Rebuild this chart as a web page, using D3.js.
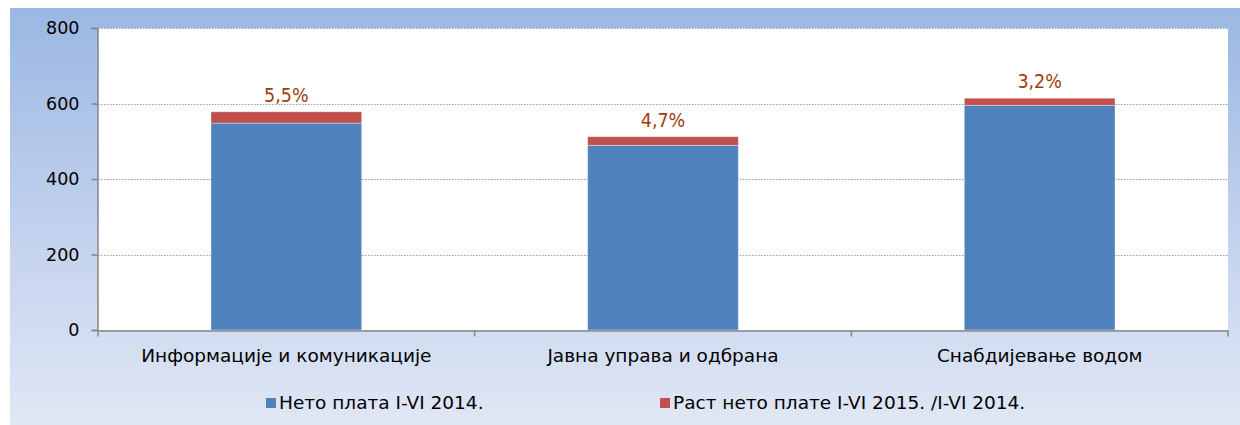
<!DOCTYPE html>
<html>
<head>
<meta charset="utf-8">
<script src="https://cdn.jsdelivr.net/npm/d3@7"></script>
<style>
    body { margin: 0; background: #fff; }
    svg text { font-family: "DejaVu Sans", sans-serif; }
</style>
</head>
<body>
<div id="chart"></div>
<script>
// data
var categories = ["Информације и комуникације", "Јавна управа и одбрана", "Снабдијевање водом"];
var netoPlata2014 = [548, 489, 595];
var rastNetoPlate = [30, 23, 19];
var rastLabels = ["5,5%", "4,7%", "3,2%"];
var yTicks = [0, 200, 400, 600, 800];
var seriesNames = ["Нето плата I-VI 2014.", "Раст нето плате I-VI 2015. /I-VI 2014."];
var seriesColors = ["#4f81bd", "#c0504d"];

var chartId = "#chart";

drawChart();

function drawChart() {
    var width = 1240,
        height = 425;

    var margin = { left: 98, right: 12, top: 28, bottom: 95 };

    var svg = d3.select(chartId).append("svg")
        .attr("width", width)
        .attr("height", height);

    // background gradient
    var defs = svg.append("defs");
    var grad = defs.append("linearGradient")
        .attr("id", "bgGrad")
        .attr("x1", 0).attr("y1", 0)
        .attr("x2", 0).attr("y2", 1);
    grad.append("stop").attr("offset", "0%").attr("stop-color", "#9ab7e3");
    grad.append("stop").attr("offset", "55%").attr("stop-color", "#c3d2ee");
    grad.append("stop").attr("offset", "100%").attr("stop-color", "#e0e7f4");

    svg.append("rect")
        .attr("x", 10)
        .attr("y", 8)
        .attr("width", width - 10)
        .attr("height", height - 8)
        .attr("fill", "url(#bgGrad)");

    var x0 = margin.left,
        x1 = width - margin.right,
        y0 = height - margin.bottom;

    var x = d3.scaleBand()
        .domain(categories)
        .range([x0, x1])
        .paddingInner(0)
        .paddingOuter(0);

    var y = d3.scaleLinear()
        .domain([0, 800])
        .range([y0, margin.top]);

    // plot area
    svg.append("rect")
        .attr("x", x0)
        .attr("y", margin.top)
        .attr("width", x1 - x0)
        .attr("height", y0 - margin.top)
        .attr("fill", "#fff");

    // gridlines
    svg.append("g")
        .selectAll("line")
        .data(yTicks.filter(d => d > 0))
        .join("line")
        .attr("x1", x0)
        .attr("x2", x1)
        .attr("y1", d => Math.round(y(d)) + 0.5)
        .attr("y2", d => Math.round(y(d)) + 0.5)
        .attr("stroke", "#9a9a9a")
        .attr("stroke-width", 1)
        .attr("stroke-dasharray", "1.5,1.5");

    // stacked bars
    var barW = x.bandwidth() * 0.4;
    var stackData = categories.map(function (c, i) {
        return { name: c, base: netoPlata2014[i], growth: rastNetoPlate[i], label: rastLabels[i] };
    });

    var bars = svg.append("g");
    bars.selectAll(".base")
        .data(stackData)
        .join("rect")
        .attr("class", "base")
        .attr("x", d => x(d.name) + (x.bandwidth() - barW) / 2)
        .attr("width", barW)
        .attr("y", d => y(d.base))
        .attr("height", d => y0 - y(d.base))
        .attr("fill", seriesColors[0])
        .attr("stroke", "rgba(255,255,255,0.35)")
        .attr("stroke-width", 1);

    bars.selectAll(".growth")
        .data(stackData)
        .join("rect")
        .attr("class", "growth")
        .attr("x", d => x(d.name) + (x.bandwidth() - barW) / 2)
        .attr("width", barW)
        .attr("y", d => y(d.base + d.growth))
        .attr("height", d => y(d.base) - y(d.base + d.growth))
        .attr("fill", seriesColors[1])
        .attr("stroke", "rgba(255,255,255,0.35)")
        .attr("stroke-width", 1);

    // growth labels
    svg.append("g")
        .selectAll("text")
        .data(stackData)
        .join("text")
        .attr("x", d => x(d.name) + x.bandwidth() / 2)
        .attr("y", d => y(d.base + d.growth) - 10)
        .attr("text-anchor", "middle")
        .attr("font-size", "19.5px")
        .attr("fill", "#a03c0c")
        .style("font-family", "'DejaVu Sans Condensed', 'DejaVu Sans', sans-serif")
        .text(d => d.label);

    // y axis
    var yAxis = d3.axisLeft(y)
        .tickValues(yTicks)
        .tickSize(6)
        .tickPadding(12)
        .tickFormat(d3.format("d"));

    var yg = svg.append("g")
        .attr("transform", "translate(" + (x0 - 0.5) + ",0)")
        .call(yAxis);
    yg.select(".domain").attr("stroke", "#868686").attr("stroke-width", 1.5);
    yg.selectAll(".tick line").attr("stroke", "#868686").attr("stroke-width", 1.5);
    yg.selectAll(".tick text")
        .attr("font-size", "17.5px")
        .attr("fill", "#000")
        .style("font-family", "'DejaVu Sans', sans-serif");

    // x axis
    var xAxis = d3.axisBottom(x)
        .tickSize(0)
        .tickPadding(18);

    var xg = svg.append("g")
        .attr("transform", "translate(0," + (y0 + 0.5) + ")")
        .call(xAxis);
    xg.select(".domain").attr("stroke", "#868686").attr("stroke-width", 1.5);
    xg.selectAll(".tick text")
        .attr("font-size", "18.5px")
        .attr("fill", "#000")
        .style("font-family", "'DejaVu Sans', sans-serif");

    // category separator ticks
    var bounds = categories.map(c => x(c)).concat([x1]);
    xg.append("g")
        .selectAll("line")
        .data(bounds)
        .join("line")
        .attr("x1", d => d)
        .attr("x2", d => d)
        .attr("y1", 0)
        .attr("y2", 6)
        .attr("stroke", "#868686")
        .attr("stroke-width", 1.5);

    // legend
    var legendX = [266, 660];
    var legend = svg.append("g")
        .selectAll("g")
        .data(seriesNames)
        .join("g")
        .attr("transform", (d, i) => "translate(" + legendX[i] + ",398)");

    legend.append("rect")
        .attr("width", 10)
        .attr("height", 10)
        .attr("fill", (d, i) => seriesColors[i]);

    legend.append("text")
        .attr("x", 13)
        .attr("y", 11)
        .attr("font-size", "18.5px")
        .attr("fill", "#000")
        .text(d => d);
}
</script>
</body>
</html>
